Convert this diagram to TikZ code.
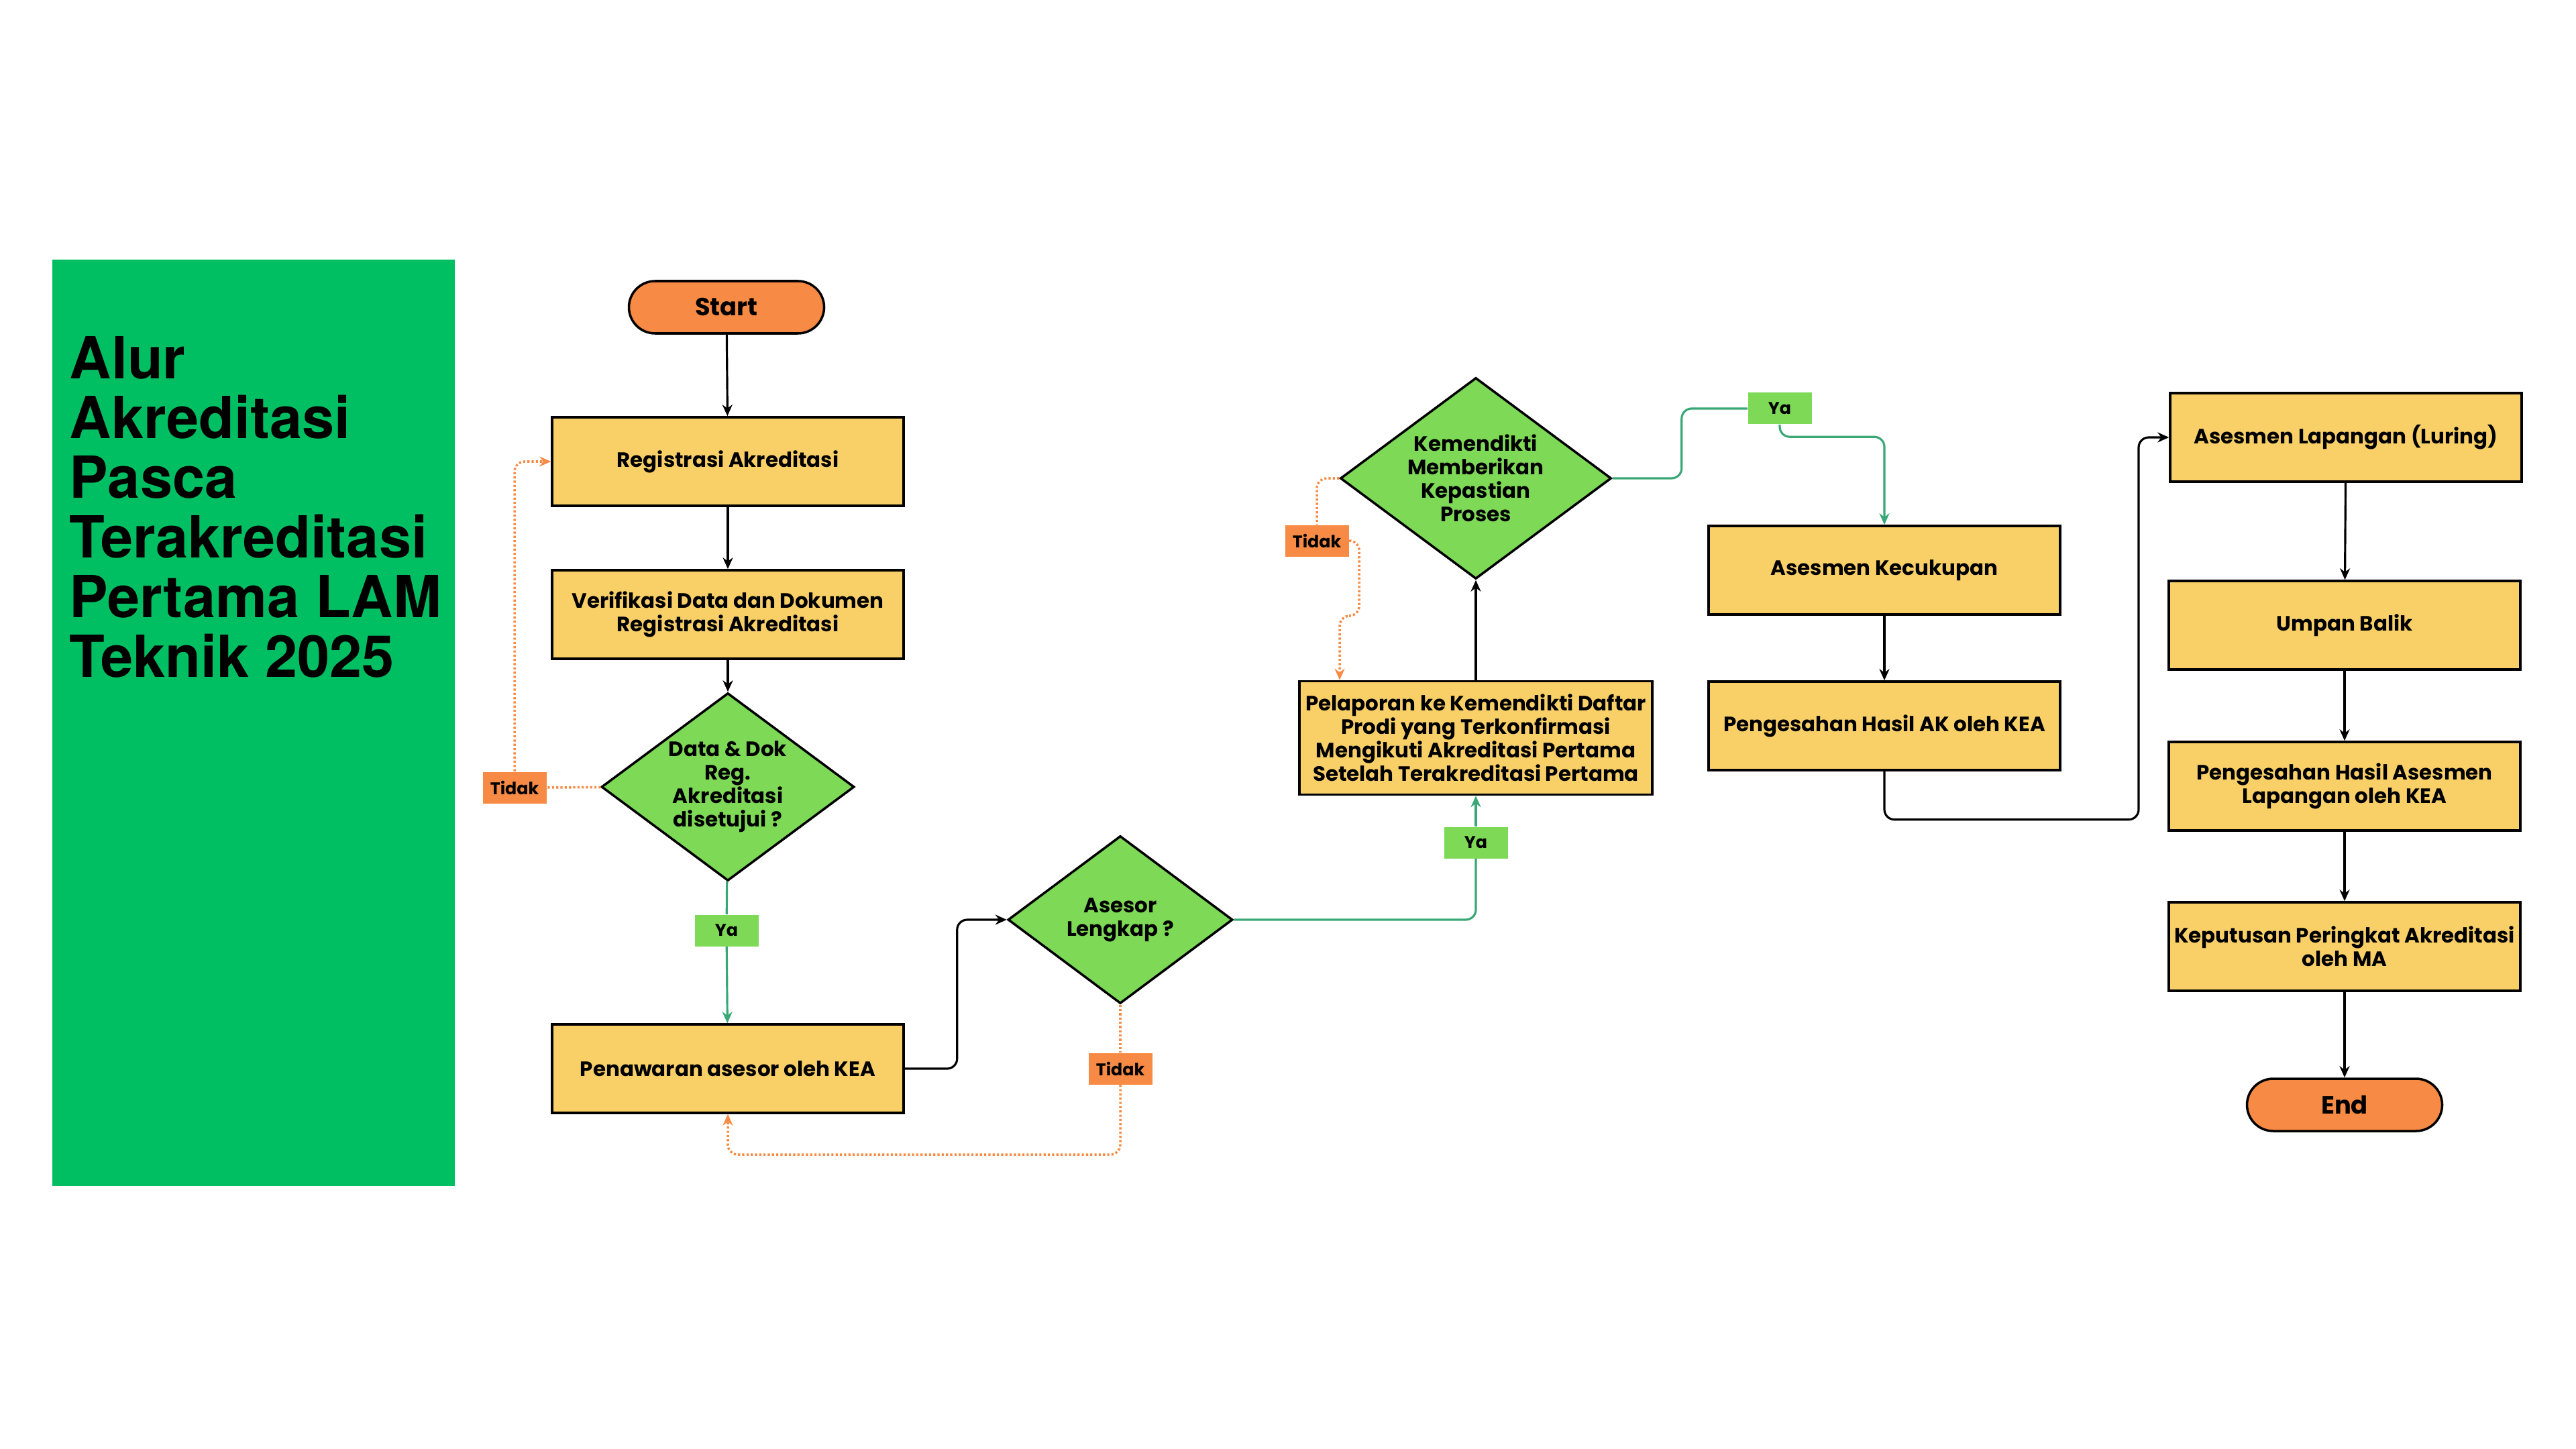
\documentclass[tikz,border=0pt]{standalone}
\usepackage{fontspec}
\setmainfont{Poppins}
\newfontfamily\titlefont{TeX Gyre Heros}
\usepackage{tikz}
\usetikzlibrary{shapes.geometric, arrows.meta}
\definecolor{boxyellow}{HTML}{F9D068}
\definecolor{termorange}{HTML}{F78B45}
\definecolor{decgreen}{HTML}{7ED957}
\definecolor{panelgreen}{HTML}{00BF63}
\definecolor{yesline}{HTML}{3AA876}
\definecolor{noline}{HTML}{F78B45}

\begin{document}
\begin{tikzpicture}[>={Stealth[length=1.7mm, width=1.5mm]},
  every node/.style={font=\fontsize{8.8}{9.96}\selectfont\bfseries, align=center},
  box/.style={draw, line width=1pt, fill=boxyellow, minimum width=5.24cm, minimum height=1.32cm, inner sep=1pt},
  term/.style={draw, line width=1pt, fill=termorange, rounded corners=3.9mm, minimum width=2.91cm, minimum height=0.78cm, font=\fontsize{10.5}{12}\selectfont\bfseries},
  dec/.style={draw, line width=1pt, fill=decgreen, diamond, aspect=1.35, inner sep=0pt},
  yalbl/.style={fill=decgreen, minimum width=0.95cm, minimum height=0.47cm, inner sep=0pt, font=\fontsize{7.2}{8}\selectfont\bfseries},
  tidaklbl/.style={fill=termorange, minimum width=0.95cm, minimum height=0.47cm, inner sep=0pt, font=\fontsize{7.2}{8}\selectfont\bfseries},
  flow/.style={line width=0.9pt},
  yesflow/.style={yesline, line width=0.9pt, rounded corners=1.5mm},
  noflow/.style={noline, line width=1pt, dash pattern=on 0.9pt off 0.9pt, rounded corners=1.5mm}]
  \useasboundingbox (0,0) rectangle (38.4,-21.6);
  \fill[white] (0,0) rectangle (38.4,-21.6);
  \fill[panelgreen] (0.78,-3.87) rectangle (6.78,-17.68);
  \node[anchor=north west, align=left, inner sep=0pt, font=\titlefont\fontsize{24.6}{25.3}\selectfont\bfseries] (title) at (1.03,-5.01) {Alur\\Akreditasi\\Pasca\\Terakreditasi\\Pertama LAM\\Teknik 2025};
  \node[term] (start) at (10.83,-4.58) {Start};
  \node[box] (reg) at (10.85,-6.88) {Registrasi Akreditasi};
  \node[box] (ver) at (10.85,-9.16) {Verifikasi Data dan Dokumen\\Registrasi Akreditasi};
  \node[dec, minimum width=3.77cm, minimum height=2.80cm] (dok) at (10.85,-11.73) {Data \& Dok\\Reg.\\Akreditasi\\disetujui ?};
  \node[tidaklbl] (tdk1) at (7.67,-11.74) {Tidak};
  \node[yalbl] (ya1) at (10.83,-13.87) {Ya};
  \node[box] (tawar) at (10.85,-15.93) {Penawaran asesor oleh KEA};
  \node[dec, minimum width=3.35cm, minimum height=2.50cm] (asesor) at (16.70,-13.71) {Asesor\\Lengkap ?};
  \node[tidaklbl] (tdk2) at (16.70,-15.93) {Tidak};
  \node[yalbl] (ya2) at (22.00,-12.56) {Ya};
  \node[box, minimum width=5.26cm, minimum height=1.69cm] (lapor) at (22.00,-11.00) {Pelaporan ke Kemendikti Daftar\\Prodi yang Terkonfirmasi\\Mengikuti Akreditasi Pertama\\Setelah Terakreditasi Pertama};
  \node[dec, minimum width=4.04cm, minimum height=3.00cm] (kemen) at (22.00,-7.13) {Kemendikti\\Memberikan\\Kepastian\\Proses};
  \node[tidaklbl] (tdk3) at (19.63,-8.06) {Tidak};
  \node[yalbl] (ya3) at (26.53,-6.09) {Ya};
  \node[box] (cukup) at (28.09,-8.50) {Asesmen Kecukupan};
  \node[box] (sahak) at (28.09,-10.82) {Pengesahan Hasil AK oleh KEA};
  \node[box] (lapangan) at (34.97,-6.52) {Asesmen Lapangan (Luring)};
  \node[box] (umpan) at (34.95,-9.32) {Umpan Balik};
  \node[box] (sahlap) at (34.95,-11.72) {Pengesahan Hasil Asesmen\\Lapangan oleh KEA};
  \node[box] (putus) at (34.95,-14.11) {Keputusan Peringkat Akreditasi\\oleh MA};
  \node[term] (finish) at (34.95,-16.47) {End};
  \draw[flow, ->] (start) -- (reg);
  \draw[flow, ->] (reg) -- (ver);
  \draw[flow, ->] (ver) -- (dok);
  \draw[noflow] (dok) -- (tdk1);
  \draw[noflow, ->] (tdk1) |- (reg);
  \draw[yesflow] (dok) -- (ya1);
  \draw[yesflow, ->] (ya1) -- (tawar);
  \draw[flow, ->, rounded corners=1.5mm] (tawar.east) -- ++(0.78,0) |- (asesor.west);
  \draw[noflow] (asesor) -- (tdk2);
  \draw[noflow, ->] (tdk2.south) -- ++(0,-1.04) -| (tawar.south);
  \draw[yesflow] (asesor.east) -| (ya2);
  \draw[yesflow, ->] (ya2) -- (lapor);
  \draw[flow, ->] (lapor) -- (kemen);
  \draw[noflow] (kemen.west) -| (tdk3);
  \draw[noflow, ->] (tdk3.east) -| ++(0.15,-1.12) -| ([xshift=-2.03cm]lapor.north);
  \draw[yesflow] (kemen.east) -- ++(1.03,0) |- (ya3.west);
  \draw[yesflow, ->] (ya3.south) -- ++(0,-0.18) -| (cukup.north);
  \draw[flow, ->] (cukup) -- (sahak);
  \draw[flow, ->, rounded corners=1.5mm] (sahak.south) |- ++(3.79,-0.72) |- (lapangan.west);
  \draw[flow, ->] (lapangan) -- (umpan);
  \draw[flow, ->] (umpan) -- (sahlap);
  \draw[flow, ->] (sahlap) -- (putus);
  \draw[flow, ->] (putus) -- (finish);
\end{tikzpicture}
\end{document}
